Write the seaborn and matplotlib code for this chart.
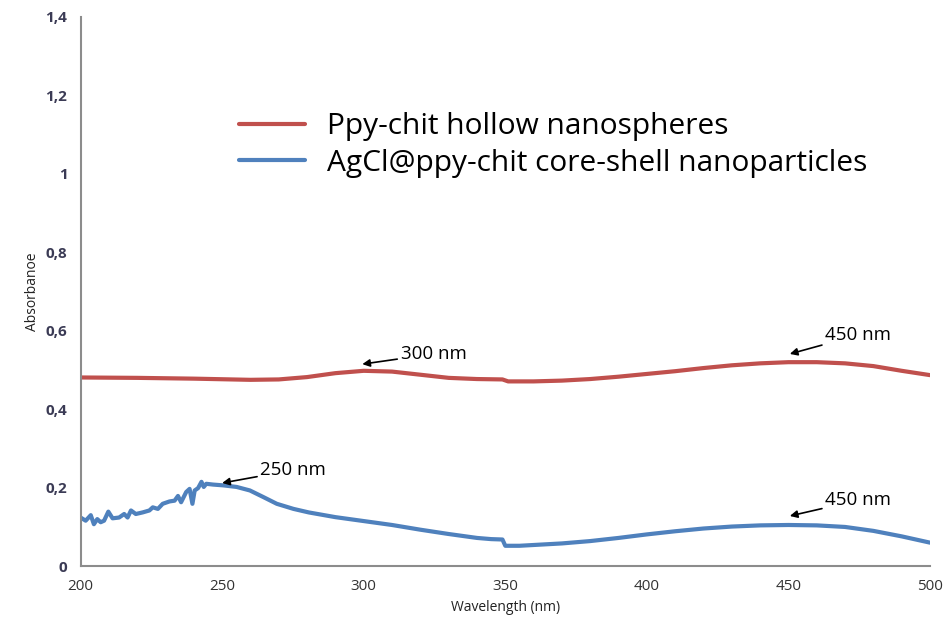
import matplotlib
matplotlib.use('Agg')
import matplotlib.pyplot as plt
import seaborn as sns
import pandas as pd

# Ppy-chit hollow nanospheres (red)
red_wl = [200, 220, 240, 260, 270, 280, 290, 300, 310, 320, 330, 340, 349, 351,
          360, 370, 380, 390, 400, 410, 420, 430, 440, 450, 460, 470, 480, 490, 500]
red_abs = [0.481, 0.480, 0.478, 0.475, 0.476, 0.482, 0.492, 0.498, 0.496, 0.488,
           0.480, 0.477, 0.476, 0.471, 0.471, 0.473, 0.477, 0.483, 0.490, 0.497,
           0.505, 0.512, 0.517, 0.520, 0.520, 0.517, 0.510, 0.498, 0.487]

# AgCl@ppy-chit core-shell nanoparticles (blue), noisy below 250 nm
blue_wl = [200, 201.8, 203.6, 204.7, 205.9, 207.1, 208.3, 209.8, 211.3, 213.6,
           215.4, 216.6, 217.8, 219.5, 221.9, 224.3, 225.5, 227.3, 229.0, 231.4,
           233.2, 234.4, 235.5, 237.3, 238.5, 239.5, 240.3, 241.5, 242.7, 243.5,
           244.4, 246.8, 250.4, 255.1, 259.8, 264.6, 269.3, 275.2, 280.6, 290,
           300, 310, 320, 330, 340, 345, 349, 350, 355, 360, 370, 380, 390, 400,
           410, 420, 430, 440, 450, 460, 470, 480, 490, 500]
blue_abs = [0.124, 0.116, 0.130, 0.107, 0.120, 0.112, 0.116, 0.139, 0.122, 0.124,
            0.133, 0.124, 0.142, 0.133, 0.137, 0.142, 0.150, 0.146, 0.159, 0.165,
            0.167, 0.179, 0.163, 0.189, 0.197, 0.159, 0.193, 0.199, 0.215, 0.202,
            0.210, 0.208, 0.206, 0.202, 0.193, 0.176, 0.159, 0.146, 0.137, 0.125,
            0.115, 0.105, 0.093, 0.082, 0.072, 0.069, 0.068, 0.052, 0.052, 0.054,
            0.058, 0.064, 0.072, 0.081, 0.089, 0.096, 0.101, 0.104, 0.105, 0.104,
            0.100, 0.090, 0.076, 0.060]

series_names = ['Ppy-chit hollow nanospheres', 'AgCl@ppy-chit core-shell nanoparticles']
y_ticks = [0, 0.2, 0.4, 0.6, 0.8, 1.0, 1.2, 1.4]
y_tick_labels = ['0', '0,2', '0,4', '0,6', '0,8', '1', '1,2', '1,4']
x_ticks = [200, 250, 300, 350, 400, 450, 500]

# peak annotations: (label, tip x, tip y, text x, text y)
peak_labels = ['300 nm', '450 nm', '250 nm', '450 nm']
peak_tips = [(299.5, 0.515), (450.5, 0.541), (250, 0.212), (450.5, 0.128)]
peak_texts = [(313, 0.541), (463, 0.589), (263.5, 0.245), (463, 0.168)]

sns.set_style('white')
plt.rcParams['font.family'] = ['Open Sans', 'DejaVu Sans']

df = pd.concat([
    pd.DataFrame({'wl': red_wl, 'abs': red_abs, 'series': series_names[0]}),
    pd.DataFrame({'wl': blue_wl, 'abs': blue_abs, 'series': series_names[1]}),
])

fig = plt.figure(figsize=(9.48, 6.27), dpi=100)
ax = fig.add_axes([0.085, 0.097, 0.896, 0.876])

sns.lineplot(data=df, x='wl', y='abs', hue='series', palette=['#C0504D', '#4F81BD'],
             linewidth=3.0, sort=False, estimator=None, ax=ax)

ax.set_xlim(200, 500)
ax.set_ylim(0, 1.4)
ax.set_xticks(x_ticks)
ax.set_yticks(y_ticks)
ax.set_yticklabels(y_tick_labels)
ax.tick_params(axis='both', direction='out', length=6, color='#8c8c8c', width=1.2,
               labelsize=11, labelcolor='#333333')
for lbl in ax.get_yticklabels():
    lbl.set_fontweight('bold')
    lbl.set_color('#3b3b55')

sns.despine(ax=ax)
for side in ['left', 'bottom']:
    ax.spines[side].set_color('#8c8c8c')
    ax.spines[side].set_linewidth(1.5)

ax.set_xlabel('Wavelength (nm)', fontsize=10, color='#222222')
ax.set_ylabel('Absorbanoe', fontsize=10, color='#222222')

for label, tip, txt in zip(peak_labels, peak_tips, peak_texts):
    ax.annotate(label, xy=tip, xytext=txt, fontsize=13.5, color='black',
                va='center', ha='left',
                arrowprops=dict(arrowstyle='-|>', color='black', lw=1.2,
                                mutation_scale=11, shrinkA=0, shrinkB=0))

leg = ax.legend(loc='upper left', bbox_to_anchor=(0.155, 0.875), frameon=False,
                fontsize=21.5, handlelength=2.2, handletextpad=0.75, labelspacing=0.25,
                title=None)
for t in leg.get_texts():
    t.set_color('black')

fig.savefig('out.png', dpi=100)
plt.close(fig)
